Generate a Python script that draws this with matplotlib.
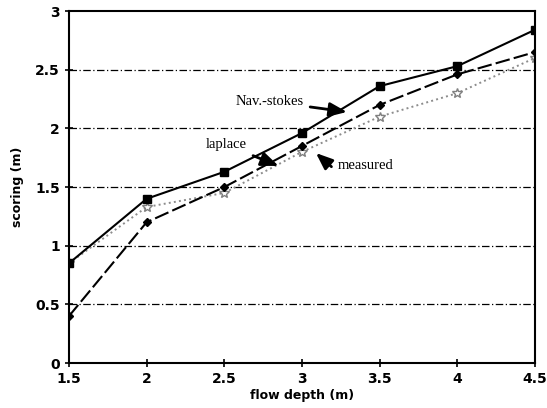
import matplotlib.pyplot as plt

depth = [1.5, 2, 2.5, 3, 3.5, 4, 4.5]
nav_stokes = [0.85, 1.4, 1.63, 1.96, 2.36, 2.53, 2.84]
laplace = [0.4, 1.2, 1.5, 1.85, 2.2, 2.46, 2.65]
measured = [0.85, 1.33, 1.45, 1.8, 2.1, 2.3, 2.6]

xticks = [1.5, 2, 2.5, 3, 3.5, 4, 4.5]
yticks = [0, 0.5, 1, 1.5, 2, 2.5, 3]

fig = plt.figure(figsize=(5.47, 4.08), dpi=100)
ax = fig.add_axes([0.126, 0.11, 0.852, 0.863])

for y in yticks[1:-1]:
    ax.axhline(y, color='black', lw=0.9, ls=(0, (6, 2, 1, 2)), zorder=1)

ax.plot(depth, measured, color='0.55', ls=':', lw=1.4, marker='*',
        ms=7, mfc='white', mec='0.5', zorder=2)
ax.plot(depth, laplace, color='black', ls=(0, (7, 2)), lw=1.5, marker='D',
        ms=4.5, zorder=3)
ax.plot(depth, nav_stokes, color='black', ls='-', lw=1.5, marker='s',
        ms=6, zorder=4)

serif = dict(family='Liberation Serif', fontsize=10.5)
arrow = dict(arrowstyle='-|>,head_length=1.0,head_width=0.4', color='black',
             lw=2, shrinkA=3, shrinkB=0)
ax.annotate('Nav.-stokes', xy=(3.29, 2.14), xytext=(2.57, 2.23),
            arrowprops=arrow, va='center', ha='left', **serif)
ax.annotate('laplace', xy=(2.85, 1.68), xytext=(2.38, 1.86),
            arrowprops=arrow, va='center', ha='left', **serif)
ax.annotate('', xy=(3.09, 1.79), xytext=(3.21, 1.65), arrowprops=arrow)
ax.text(3.23, 1.68, 'measured', va='center', ha='left', **serif)

ax.set_xlim(1.5, 4.5)
ax.set_ylim(0, 3)
ax.set_xticks(xticks)
ax.set_xticklabels(['%g' % t for t in xticks])
ax.set_yticks(yticks)
ax.set_yticklabels(['%g' % t for t in yticks])
ax.tick_params(direction='inout', length=6, width=1.2, labelsize=10)
for lab in ax.get_xticklabels() + ax.get_yticklabels():
    lab.set_fontweight('bold')
for sp in ax.spines.values():
    sp.set_linewidth(1.5)

ax.set_xlabel('flow depth (m)', fontsize=9, fontweight='bold', labelpad=2)
ax.set_ylabel('scoring (m)', fontsize=9, fontweight='bold', labelpad=8)

fig.savefig('out.png', dpi=100)
